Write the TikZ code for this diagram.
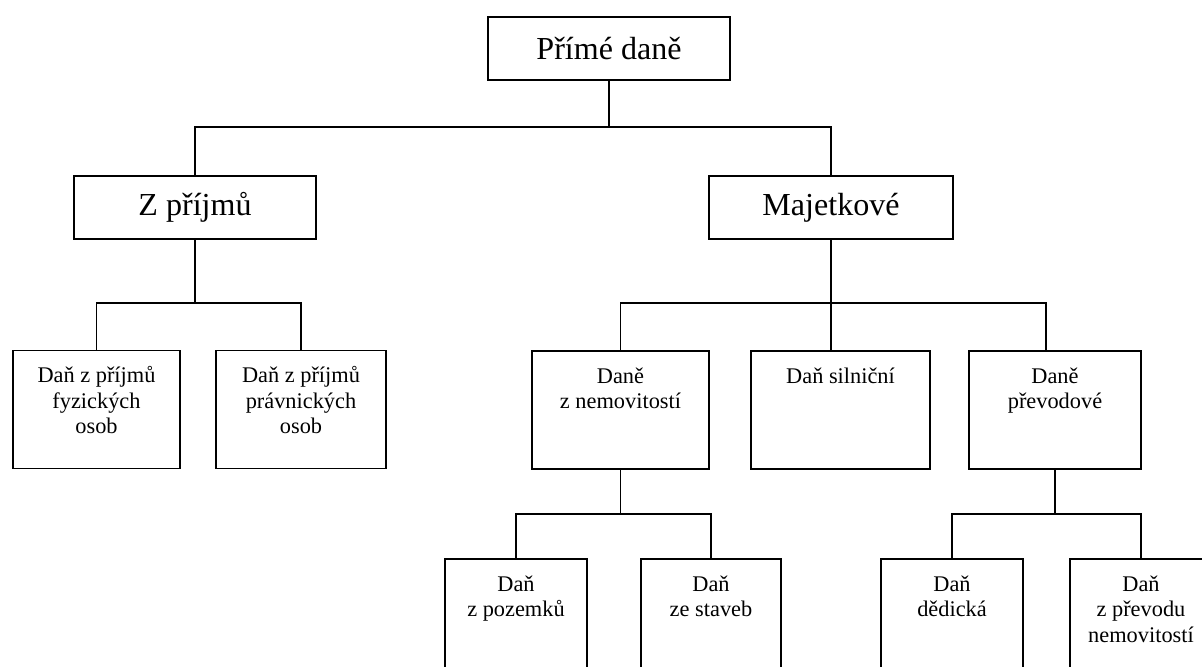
\documentclass[tikz,border=0pt]{standalone}
\usepackage{fontspec}
\setmainfont{Liberation Serif}
\usetikzlibrary{positioning, calc}
\newcommand{\toplines}[1]{\begin{tabular}[t]{@{}c@{}}#1\end{tabular}}

\begin{document}
\begin{tikzpicture}[
    line width=1.2pt,
    bigbox/.style={draw, rectangle, minimum width=6.05cm, minimum height=1.575cm, align=center, fill=white, font=\fontsize{22.8}{26}\selectfont},
    leafbox/.style={draw, rectangle, inner sep=0pt, text height=0.8cm, text depth=2.15cm, fill=white, font=\fontsize{15.9}{18.2}\selectfont},
    link/.style={line width=1.2pt}
]
    \useasboundingbox (0,0) rectangle (30.05,16.65);

    % --- Root ---
    \node[bigbox] (prime) at (15.225, 15.4375) {Přímé daně};

    % --- Second level ---
    \node[bigbox] (prijmy) at (4.875, 11.4625) {Z příjmů};
    \node[bigbox, minimum width=6.1cm] (majetek) at (20.775, 11.4625) {Majetkové};

    \coordinate (rail0) at (15.225, 13.475);
    \draw[link] (prime.south) -- (rail0) -| (prijmy.north);
    \draw[link] (rail0) -| (majetek.north);

    % --- Income taxes ---
    \node[leafbox, minimum width=4.175cm] (fyz) at (2.4125, 6.4125) {\toplines{Daň z příjmů\\fyzických\\osob}};
    \node[leafbox, minimum width=4.25cm] (prav) at (7.525, 6.4125) {\toplines{Daň z příjmů\\právnických\\osob}};

    \coordinate (rail1) at (4.875, 9.075);
    \draw[link] (prijmy.south) -- (rail1) -| (fyz.north);
    \draw[link] (rail1) -| (prav.north);

    % --- Property taxes ---
    \node[leafbox, minimum width=4.425cm] (nemov) at (15.5125, 6.4) {\toplines{Daně\\z nemovitostí}};
    \node[leafbox, minimum width=4.475cm] (silnice) at (21.0125, 6.4) {\toplines{Daň silniční}};
    \node[leafbox, minimum width=4.3cm] (prevod) at (26.375, 6.4) {\toplines{Daně\\převodové}};

    \coordinate (rail2) at (20.775, 9.075);
    \draw[link] (majetek.south) -- (majetek.south |- silnice.north);
    \draw[link] (rail2) -| (nemov.north);
    \draw[link] (rail2) -| ([xshift=-2.25mm]prevod.north);

    % --- Real estate taxes ---
    \node[leafbox, minimum width=3.55cm] (pozemky) at (12.9, 1.2) {\toplines{Daň\\z pozemků}};
    \node[leafbox, minimum width=3.5cm] (stavby) at (17.775, 1.2) {\toplines{Daň\\ze staveb}};

    \coordinate (rail3) at (15.5125, 3.8);
    \draw[link] (nemov.south) -- (rail3) -| (pozemky.north);
    \draw[link] (rail3) -| (stavby.north);

    % --- Transfer taxes ---
    \node[leafbox, minimum width=3.55cm] (dedicka) at (23.8, 1.2) {\toplines{Daň\\dědická}};
    \node[leafbox, minimum width=3.55cm] (prevnem) at (28.525, 1.2) {\toplines{Daň\\z převodu\\nemovitostí}};

    \coordinate (rail4) at (26.375, 3.8);
    \draw[link] (prevod.south) -- (rail4) -| (dedicka.north);
    \draw[link] (rail4) -| (prevnem.north);

\end{tikzpicture}
\end{document}
